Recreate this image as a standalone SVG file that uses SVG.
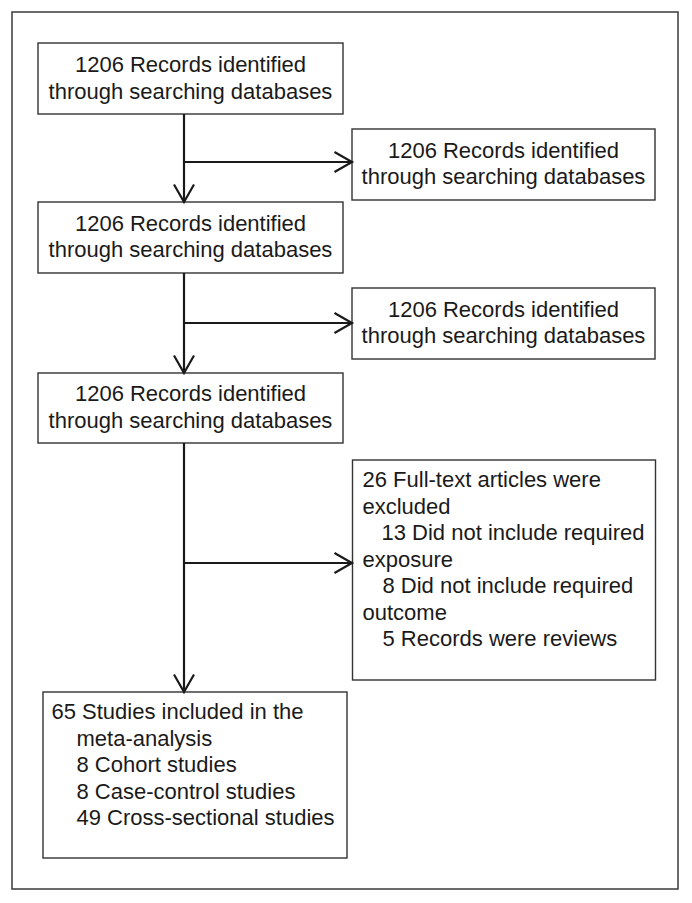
<svg xmlns="http://www.w3.org/2000/svg" width="692" height="903" viewBox="0 0 692 903">
<defs>
<style>
.frame{fill:#fff;stroke:#3a3a3a;stroke-width:1.5}
.box{fill:#fff;stroke:#333;stroke-width:1.4}
.t{font-family:"Liberation Sans",Arial,sans-serif;font-size:22px;fill:#1a1a1a}
.c{text-anchor:middle}
.conn{fill:none;stroke:#1a1a1a;stroke-width:2.2;marker-end:url(#ah)}
</style>
<marker id="ah" markerUnits="userSpaceOnUse" markerWidth="24" markerHeight="24" viewBox="0 0 24 24" refX="20" refY="12" orient="auto">
<path d="M2.5,2 L20,12 L2.5,22" fill="none" stroke="#1a1a1a" stroke-width="2.2"/>
</marker>
</defs>
<rect x="0" y="0" width="692" height="903" fill="#fff"/>
<rect class="frame" x="12" y="12" width="666" height="877"/>

<g id="n1">
<rect class="box" x="38" y="43" width="305" height="71"/>
<text class="t c" x="190.5" y="72">1206 Records identified</text>
<text class="t c" x="190.5" y="98.5">through searching databases</text>
</g>
<g id="n2">
<rect class="box" x="352" y="129" width="303" height="71"/>
<text class="t c" x="503.5" y="157.5">1206 Records identified</text>
<text class="t c" x="503.5" y="184">through searching databases</text>
</g>
<g id="n3">
<rect class="box" x="38" y="202" width="305" height="71"/>
<text class="t c" x="190.5" y="230.5">1206 Records identified</text>
<text class="t c" x="190.5" y="257">through searching databases</text>
</g>
<g id="n4">
<rect class="box" x="352" y="288" width="303" height="71"/>
<text class="t c" x="503.5" y="316.5">1206 Records identified</text>
<text class="t c" x="503.5" y="343">through searching databases</text>
</g>
<g id="n5">
<rect class="box" x="38" y="373" width="305" height="70"/>
<text class="t c" x="190.5" y="401">1206 Records identified</text>
<text class="t c" x="190.5" y="427.5">through searching databases</text>
</g>
<g id="n6">
<rect class="box" x="352.5" y="460" width="303" height="220"/>
<text class="t" x="362.5" y="487">26 Full-text articles were</text>
<text class="t" x="362.5" y="513.5">excluded</text>
<text class="t" x="381.5" y="540">13 Did not include required</text>
<text class="t" x="362.5" y="566.5">exposure</text>
<text class="t" x="382.5" y="593">8 Did not include required</text>
<text class="t" x="362.5" y="619.5">outcome</text>
<text class="t" x="382.5" y="646">5 Records were reviews</text>
</g>
<g id="n7">
<rect class="box" x="43" y="692" width="304" height="166"/>
<text class="t" x="51.5" y="719">65 Studies included in the</text>
<text class="t" x="76.5" y="745.5">meta-analysis</text>
<text class="t" x="76.5" y="772">8 Cohort studies</text>
<text class="t" x="76.5" y="798.5">8 Case-control studies</text>
<text class="t" x="76.5" y="825">49 Cross-sectional studies</text>
</g>

<g id="connectors">
<path class="conn" d="M184,114 V202"/>
<path class="conn" d="M184,162 H352"/>
<path class="conn" d="M184,273 V373"/>
<path class="conn" d="M184,323 H352"/>
<path class="conn" d="M184,443 V692"/>
<path class="conn" d="M184,563 H352"/>
</g>
</svg>
